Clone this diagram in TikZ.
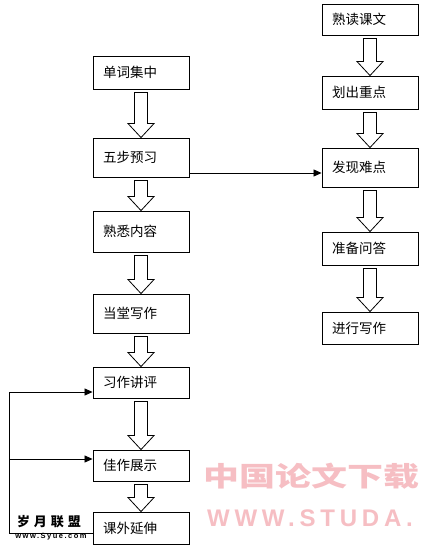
\documentclass[tikz,border=0pt]{standalone}
\usepackage{fontspec}
\newfontfamily\cjk{Noto Sans CJK SC}
\newfontfamily\wmlatin[LetterSpace=20]{Liberation Sans}
\usetikzlibrary{arrows.meta,calc}
\definecolor{wmpink}{RGB}{246,190,195}

\begin{document}
\begin{tikzpicture}[x=1pt,y=-1pt,line width=0.9pt,
    main box/.style={rectangle,draw,font=\cjk\fontsize{13.5}{16}\selectfont,text width=76pt,align=left,inner xsep=10pt,inner ysep=0pt},
    hollow arrow/.style={draw,fill=white,line width=0.8pt,to path={let \p1=(\tikztostart), \p2=(\tikztotarget) in
        (\x1-6.5pt,\y1-3pt) -- (\x1-6.5pt,\y2+14pt) -- (\x1-13pt,\y2+14pt) -- (\x1,\y2)
        -- (\x1+13pt,\y2+14pt) -- (\x1+6.5pt,\y2+14pt) -- (\x1+6.5pt,\y1-3pt) -- cycle}},
    thin arrow/.style={line width=0.8pt,-{Triangle[length=8pt,width=7pt]}}]
        \fill[white] (0,0) rectangle (425,548);
        \useasboundingbox (0,0) rectangle (425,548);

        % watermarks
        \node[text=wmpink,font=\cjk\bfseries\fontsize{36}{36}\selectfont] (wmcn) at (311.5,476.5) {\scalebox{1}[0.75]{中国论文下载}};
        \node[text=wmpink,font=\wmlatin\bfseries\fontsize{24}{24}\selectfont] (wmen) at (310,518.5) {WWW.STUDA.};

        % left column
        \node[main box,minimum height=33pt] at (141,72.5) (wdjz) {单词集中};
        \node[main box,minimum height=39pt] at (141,157.5) (wbyx) {五步预习};
        \node[main box,minimum height=41pt] at (141,231.5) (sxnr) {熟悉内容};
        \node[main box,minimum height=39pt] at (141,313.5) (ddxz) {当堂写作};
        \node[main box,minimum height=31pt] at (141,382.5) (xzjp) {习作讲评};
        \node[main box,minimum height=31pt] at (141,465.5) (jzzs) {佳作展示};
        \node[main box,minimum height=32pt] at (141,528) (kwys) {课外延伸};

        % right column
        \node[main box,minimum height=31pt] at (370,19.5) (sdkw) {熟读课文};
        \node[main box,minimum height=33pt] at (370,92.5) (hczd) {划出重点};
        \node[main box,minimum height=39pt] at (370,167.5) (fxnd) {发现难点};
        \node[main box,minimum height=33pt] at (370,248.5) (zbwd) {准备问答};
        \node[main box,minimum height=32pt] at (370,328) (jxxz) {进行写作};

        \path
            (wdjz.south) edge[hollow arrow] (wbyx.north)
            (wbyx.south) edge[hollow arrow] (sxnr.north)
            (sxnr.south) edge[hollow arrow] (ddxz.north)
            (ddxz.south) edge[hollow arrow] (xzjp.north)
            (xzjp.south) edge[hollow arrow] (jzzs.north)
            (jzzs.south) edge[hollow arrow] (kwys.north)
            (sdkw.south) edge[hollow arrow] (hczd.north)
            (hczd.south) edge[hollow arrow] (fxnd.north)
            (fxnd.south) edge[hollow arrow] (zbwd.north)
            (zbwd.south) edge[hollow arrow] (jxxz.north)
            ;

        \coordinate (jump) at (255,173);
        \draw[thin arrow] (wbyx.east |- jump) -- (fxnd.west |- jump);

        % feedback loop
        \coordinate (fb1) at (9,392);
        \coordinate (fb2) at (9,459);
        \coordinate (fb3) at (9,533);
        \draw[thin arrow] (kwys.west |- fb3) -- (fb3) -- (fb1) -- (xzjp.west |- fb1);
        \draw[thin arrow] (fb2) -- (jzzs.west |- fb2);

        \node[font=\cjk\bfseries\fontsize{13}{13}\selectfont] (symark) at (49,522) {岁\hspace{4pt}月\hspace{4pt}联\hspace{4pt}盟};
        \node[font=\wmlatin\bfseries\fontsize{7.5}{7.5}\selectfont] (syurl) at (51,537) {www.Syue.com};
\end{tikzpicture}
\end{document}
